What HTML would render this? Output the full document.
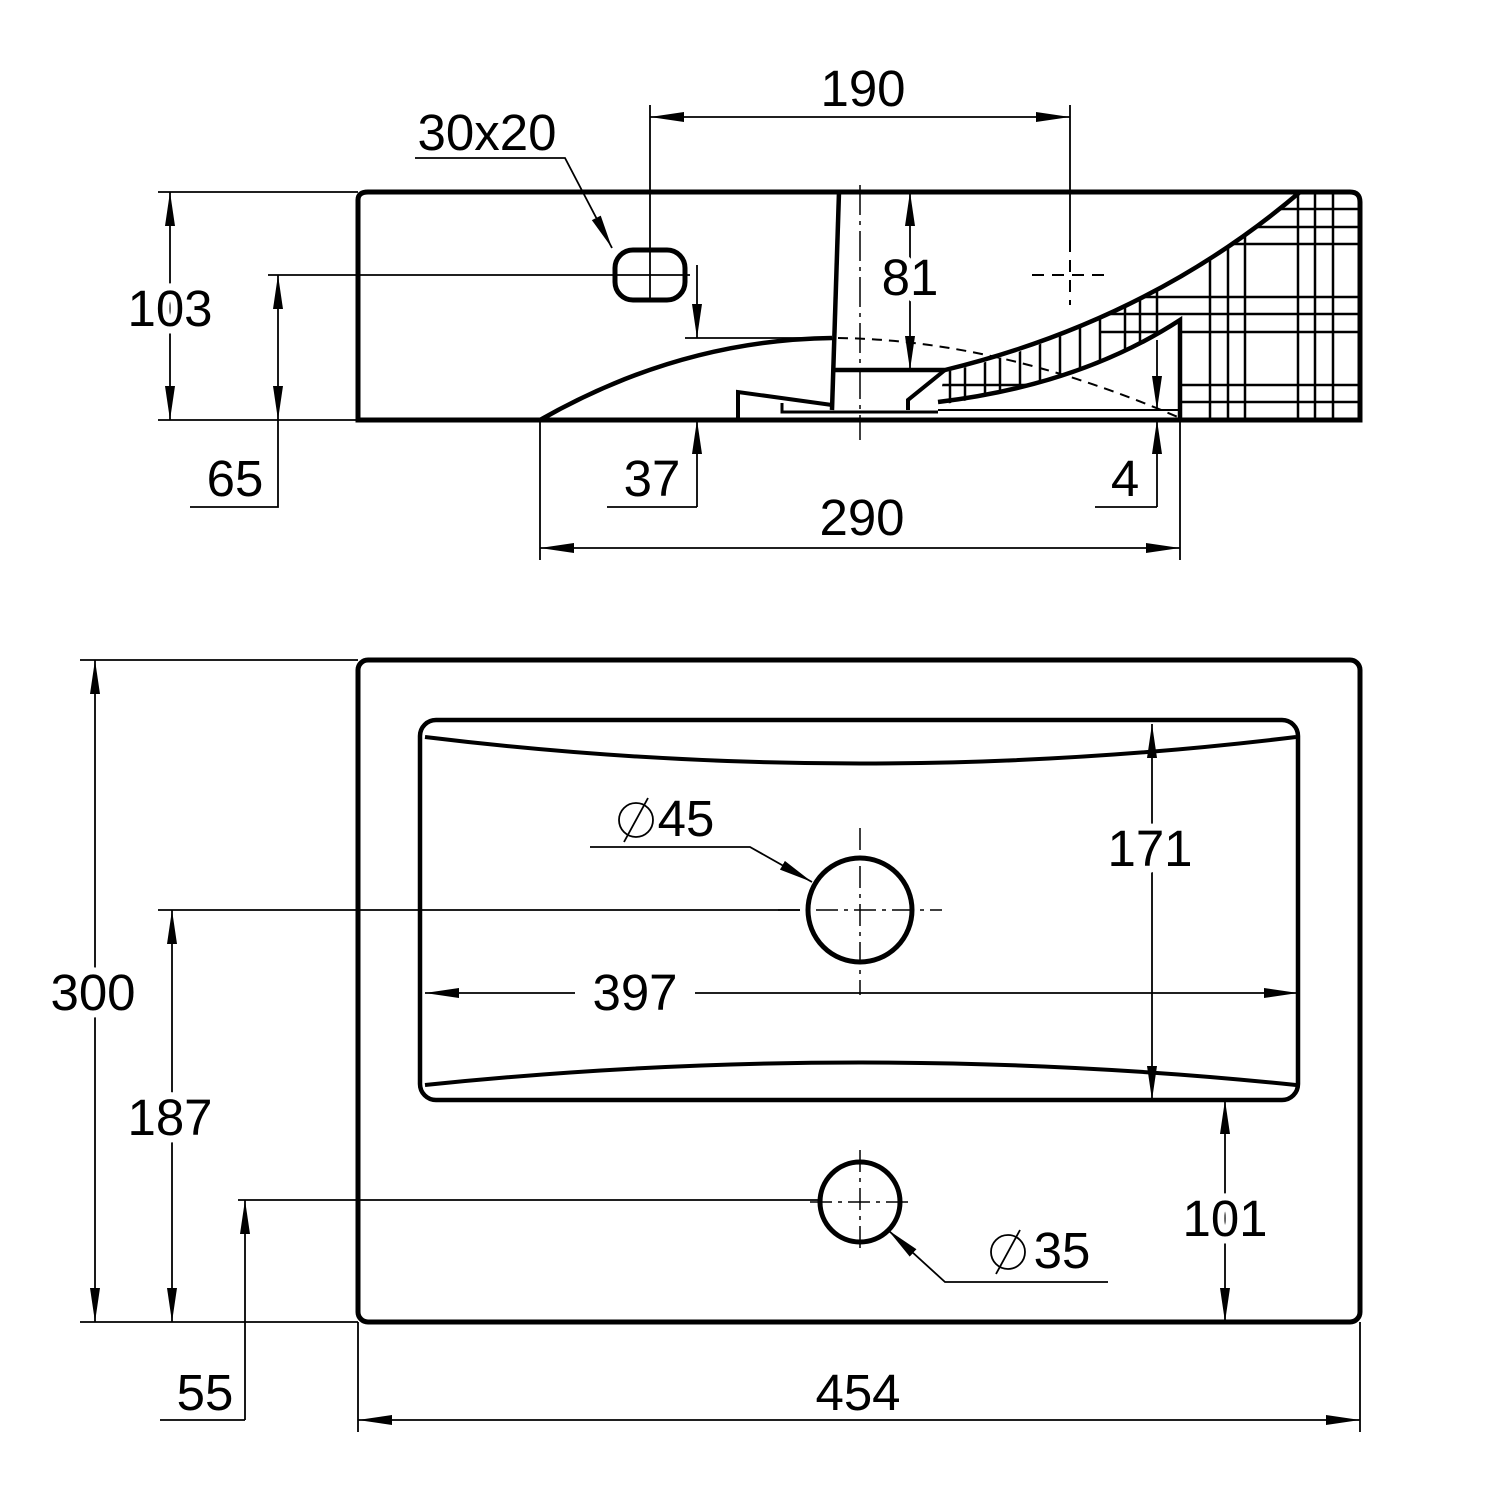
<!DOCTYPE html>
<html><head><meta charset="utf-8"><style>
html,body{margin:0;padding:0;background:#fff}
svg{display:block}
text{font-family:"Liberation Sans",Arial,sans-serif;font-size:51px;fill:#000;text-anchor:middle}
.w{stroke:#fff;stroke-width:14px;paint-order:stroke;stroke-linejoin:round}
</style></head><body>
<svg width="1500" height="1500" viewBox="0 0 1500 1500" xmlns="http://www.w3.org/2000/svg">
<defs>
<marker id="a" markerWidth="34" markerHeight="12" refX="34" refY="6" orient="auto-start-reverse" markerUnits="userSpaceOnUse">
<path d="M0,1 L34,6 L0,11 Z" fill="#000"/></marker>
<clipPath id="hc"><path d="M1300 192 Q1120 335 945 372 L938 405 Q1080 385 1180 320 L1180 420 L1360 420 L1360 192 Z"/></clipPath>
</defs>
<g stroke="#000" fill="none">
<!-- SIDE VIEW -->
<g clip-path="url(#hc)" stroke-width="2.5">
<path d="M1210 190V420M1228 190V420M1245 190V420M1298 190V420M1315 190V420M1333 190V420M1157 190V420M1140 190V420M1125 190V420M1100 190V420M1080 190V420M1060 190V420M1040 190V420M1020 190V420M1000 190V420M985 190V420M965 190V420M950 190V420"/>
<path d="M1170 209H1360M1170 227H1360M1170 244H1360M1100 297H1360M1100 314H1360M1100 332H1360M1180 385H1360M1180 402H1360M940 385H1180"/>
</g>
<path d="M368 192H1350Q1360 192 1360 202V420H358V200Q358 192 368 192Z" stroke-width="5"/>
<path d="M540 420Q680 340 832 338" stroke-width="4.5"/>
<path d="M838 338Q1000 340 1180 418" stroke-width="2" stroke-dasharray="10,7"/>
<path d="M839 192L832 410" stroke-width="4.5"/>
<path d="M835 370H945Q1150 320 1300 192" stroke-width="4.5"/>
<path d="M945 370L908 400V410" stroke-width="4"/>
<path d="M938 402Q1080 385 1180 320V420" stroke-width="4.5"/>
<path d="M738 420V392L832 405" stroke-width="4"/>
<path d="M782 403V412H938" stroke-width="3"/>
<path d="M938 410H1178" stroke-width="2"/>
<rect x="615" y="250" width="70" height="50" rx="18" stroke-width="5"/>
<path d="M860 185V440" stroke-width="1.5" stroke-dasharray="30,6,4,6"/>
<path d="M1032 275H1105M1070 240V305" stroke-width="2" stroke-dasharray="12,8"/>
<!-- dims side -->
<g stroke-width="1.8">
<path d="M650 105V300M1070 105V250M268 275H690"/>
<path d="M650 117H1070" marker-start="url(#a)" marker-end="url(#a)"/>
<path d="M415 158H565L612 248" marker-end="url(#a)"/>
<path d="M158 192H358M158 420H358"/>
<path d="M170 192V420" marker-start="url(#a)" marker-end="url(#a)"/>
<path d="M278 275V420" marker-start="url(#a)" marker-end="url(#a)"/>
<path d="M278 420V507H190"/>
<path d="M685 338H832"/>
<path d="M697 265V338" marker-end="url(#a)"/>
<path d="M697 507V420" marker-end="url(#a)"/>
<path d="M697 507H607"/>
<path d="M910 192V370" marker-start="url(#a)" marker-end="url(#a)"/>
<path d="M1157 340V410" marker-end="url(#a)"/>
<path d="M1157 507V420" marker-end="url(#a)"/>
<path d="M1157 507H1095"/>
<path d="M540 420V560M1180 420V560"/>
<path d="M540 548H1180" marker-start="url(#a)" marker-end="url(#a)"/>
</g>
<!-- PLAN VIEW -->
<rect x="358" y="660" width="1002" height="662" rx="10" stroke-width="5"/>
<rect x="420" y="720" width="878" height="380" rx="16" stroke-width="4.5"/>
<path d="M425 737Q860 790 1296 737M425 1085Q860 1040 1296 1085" stroke-width="4"/>
<circle cx="860" cy="910" r="52" stroke-width="5"/>
<circle cx="860" cy="1202" r="40" stroke-width="5"/>
<path d="M860 828V995M778 910H942" stroke-width="1.5" stroke-dasharray="22,6,4,6"/>
<path d="M860 1150V1250M810 1202H910" stroke-width="1.5" stroke-dasharray="22,6,4,6"/>
<g stroke-width="1.8">
<path d="M80 660H358M80 1322H358"/>
<path d="M95 660V1322" marker-start="url(#a)" marker-end="url(#a)"/>
<path d="M158 910H800"/>
<path d="M172 910V1322" marker-start="url(#a)" marker-end="url(#a)"/>
<path d="M238 1200H820"/>
<path d="M245 1420V1200" marker-end="url(#a)"/>
<path d="M245 1420H160"/>
<path d="M358 1322V1432M1360 1322V1432"/>
<path d="M358 1420H1360" marker-start="url(#a)" marker-end="url(#a)"/>
<path d="M575 993H425" marker-end="url(#a)"/>
<path d="M695 993H1298" marker-end="url(#a)"/>
<path d="M1152 724V1100" marker-start="url(#a)" marker-end="url(#a)"/>
<path d="M1225 1100V1322" marker-start="url(#a)" marker-end="url(#a)"/>
<path d="M590 847H750L812 882" marker-end="url(#a)"/>
<path d="M1108 1282H945L888 1230" marker-end="url(#a)"/>
<circle cx="636" cy="820" r="17"/><path d="M624 842L648 798"/>
<circle cx="1008" cy="1252" r="17"/><path d="M996 1274L1020 1230"/>
</g>
</g>
<text x="863" y="106">190</text>
<text x="487" y="150">30x20</text>
<text class="w" x="170" y="326">103</text>
<text class="w" x="910" y="295">81</text>
<text x="235" y="496">65</text>
<text x="652" y="496">37</text>
<text x="1125" y="496">4</text>
<text x="862" y="535">290</text>
<text x="686" y="836">45</text>
<text class="w" x="1150" y="866">171</text>
<text class="w" x="93" y="1010">300</text>
<text x="635" y="1010">397</text>
<text class="w" x="170" y="1135">187</text>
<text class="w" x="1225" y="1236">101</text>
<text x="1062" y="1268">35</text>
<text x="205" y="1410">55</text>
<text x="858" y="1410">454</text>
</svg>
</body></html>
